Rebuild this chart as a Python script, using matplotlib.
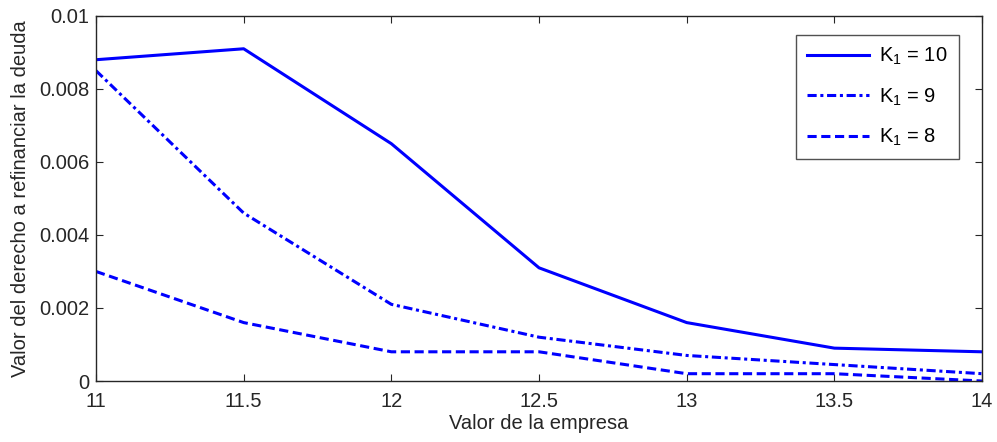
import matplotlib
matplotlib.use("Agg")
import matplotlib.pyplot as plt

plt.rcParams['font.family'] = ['Liberation Sans', 'DejaVu Sans']
plt.rcParams['mathtext.default'] = 'regular'

firm_value = [11, 11.5, 12, 12.5, 13, 13.5, 14]
k10 = [0.0088, 0.0091, 0.0065, 0.0031, 0.0016, 0.0009, 0.0008]
k9 = [0.0085, 0.0046, 0.0021, 0.0012, 0.0007, 0.00045, 0.0002]
k8 = [0.0030, 0.0016, 0.0008, 0.0008, 0.0002, 0.0002, 0.0]
labels = ['K$_1$ = 10', 'K$_1$ = 9', 'K$_1$ = 8']
xticks = [11, 11.5, 12, 12.5, 13, 13.5, 14]
yticks = [0, 0.002, 0.004, 0.006, 0.008, 0.01]
ytick_labels = ['0', '0.002', '0.004', '0.006', '0.008', '0.01']

fs = 14.5
fig = plt.figure(figsize=(9.97, 4.42), dpi=100)
ax = fig.add_axes([0.0963, 0.138, 0.8887, 0.826])

blue = '#0000ff'
lw = 2.2
# dash patterns are in units of the line width
ax.plot(firm_value, k10, color=blue, lw=lw, linestyle='-', label=labels[0])
ax.plot(firm_value, k9, color=blue, lw=lw, linestyle=(0, (3.0, 1.2, 1.0, 1.2)), label=labels[1])
ax.plot(firm_value, k8, color=blue, lw=lw, linestyle=(0, (3.0, 1.5)), label=labels[2])

ax.set_xlim(11, 14)
ax.set_ylim(0, 0.01)
ax.set_xticks(xticks)
ax.set_xticklabels([f'{v:g}' for v in xticks])
ax.set_yticks(yticks)
ax.set_yticklabels(ytick_labels)

ax.tick_params(direction='in', length=5, width=0.8, top=True, right=True,
               labelsize=fs, colors='#262626')
ax.tick_params(axis='x', pad=8)
ax.tick_params(axis='y', pad=5)
for s in ax.spines.values():
    s.set_color('#262626')
    s.set_linewidth(1.0)

ax.set_xlabel('Valor de la empresa', fontsize=fs, color='#262626', labelpad=2)
ax.set_ylabel('Valor del derecho a refinanciar la deuda', fontsize=fs,
              color='#262626', labelpad=6)

leg = ax.legend(loc='upper right', bbox_to_anchor=(0.974, 0.948), fontsize=fs,
                frameon=True, fancybox=False, edgecolor='#262626',
                handlelength=3.1, handletextpad=0.5, borderpad=0.55,
                labelspacing=0.95, borderaxespad=0)
leg.get_frame().set_linewidth(1.0)

fig.savefig('out.png', dpi=100)
